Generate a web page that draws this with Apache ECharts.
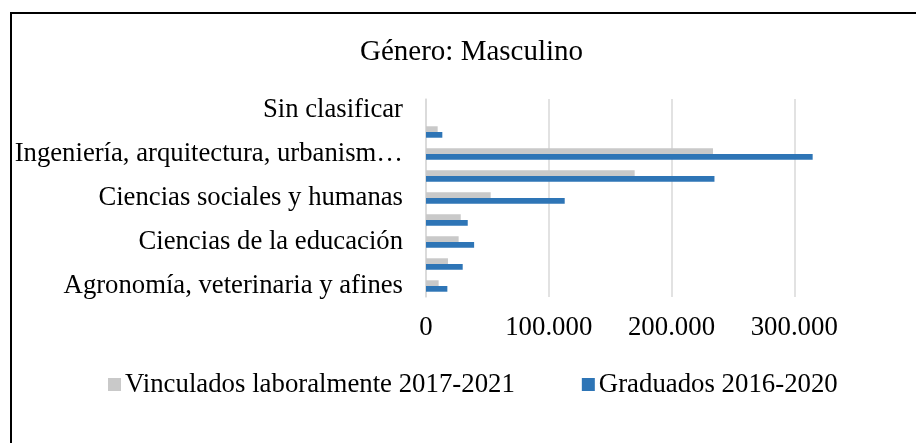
<!DOCTYPE html>
<html>
<head>
<meta charset="utf-8">
<script src="https://cdn.jsdelivr.net/npm/echarts@6/dist/echarts.min.js"></script>
<style>
	html, body { margin: 0; padding: 0; background: #fff; overflow: hidden; }
	#chart { width: 1000px; height: 443px; }
</style>
</head>
<body>
<div id="chart"></div>
<script>
// areas de conocimiento, de abajo hacia arriba
var areas = [
	'Agronomía, veterinaria y afines',
	'Bellas artes',
	'Ciencias de la educación',
	'Ciencias de la salud',
	'Ciencias sociales y humanas',
	'Economía, administración, contaduría y afines',
	'Ingeniería, arquitectura, urbanismo y afines',
	'Matemáticas y ciencias naturales',
	'Sin clasificar'
];
var vinculados = [10300, 17900, 26600, 28300, 52700, 170000, 233800, 9500, 0];
var graduados = [17400, 29900, 39200, 34000, 113000, 235000, 315000, 13300, 0];
var xTicks = [0, 100000, 200000, 300000, 400000];

var fuente = "'Liberation Serif', 'Times New Roman', serif";

function miles(v) { // 100000 -> 100.000
	return String(v).replace(/\B(?=(\d{3})+(?!\d))/g, '.');
}

// el gráfico sigue a la derecha de la ventana (la captura lo corta en 916px)
var myChart = echarts.init(document.getElementById('chart'));
var option = {
	animation: false,
	title: {
		text: 'Género: Masculino',
		left: 355,
		top: 33,
		textStyle: {
			fontFamily: fuente,
			fontSize: 29,
			fontWeight: 'normal',
			color: '#000'
		}
	},
	legend: {
		data: ['Vinculados laboralmente 2017-2021', 'Graduados 2016-2020'],
		left: 103,
		top: 366,
		icon: 'rect',
		itemWidth: 13,
		itemHeight: 13,
		itemGap: 67,
		textStyle: {
			fontFamily: fuente,
			fontSize: 26.8,
			color: '#000',
			padding: [0, 0, 0, -1]
		}
	},
	graphic: [{
		type: 'rect',
		shape: { x: 11, y: 13, width: 1200, height: 1200 },
		style: { fill: 'none', stroke: '#000', lineWidth: 2 },
		silent: true
	}],
	grid: {
		left: 426,
		top: 99,
		width: 491,
		height: 198,
		containLabel: false
	},
	xAxis: {
		type: 'value',
		min: xTicks[0],
		max: xTicks[xTicks.length - 1],
		interval: 100000,
		axisLine: { show: false },
		axisTick: { show: false },
		splitLine: { lineStyle: { color: '#d9d9d9', width: 1.5 } },
		axisLabel: {
			showMaxLabel: false,
			margin: 17,
			fontFamily: fuente,
			fontSize: 26.8,
			color: '#000',
			formatter: function(v) { return miles(v); }
		}
	},
	yAxis: {
		type: 'category',
		data: areas,
		axisTick: { show: false },
		axisLine: { show: true, lineStyle: { color: '#d9d9d9', width: 1.5 } },
		axisLabel: {
			interval: 1,
			margin: 23,
			width: 400,
			overflow: 'truncate',
			ellipsis: '…',
			fontFamily: fuente,
			fontSize: 26.7,
			color: '#000'
		}
	},
	series: [{
			name: 'Vinculados laboralmente 2017-2021',
			type: 'bar',
			data: vinculados,
			barGap: '0%',
			barCategoryGap: '48%',
			itemStyle: { color: '#c9c9c9' }
		},
		{
			name: 'Graduados 2016-2020',
			type: 'bar',
			data: graduados,
			barGap: '0%',
			barCategoryGap: '48%',
			itemStyle: { color: '#2e75b6' }
		}
	]
};
myChart.setOption(option);
</script>
</body>
</html>
